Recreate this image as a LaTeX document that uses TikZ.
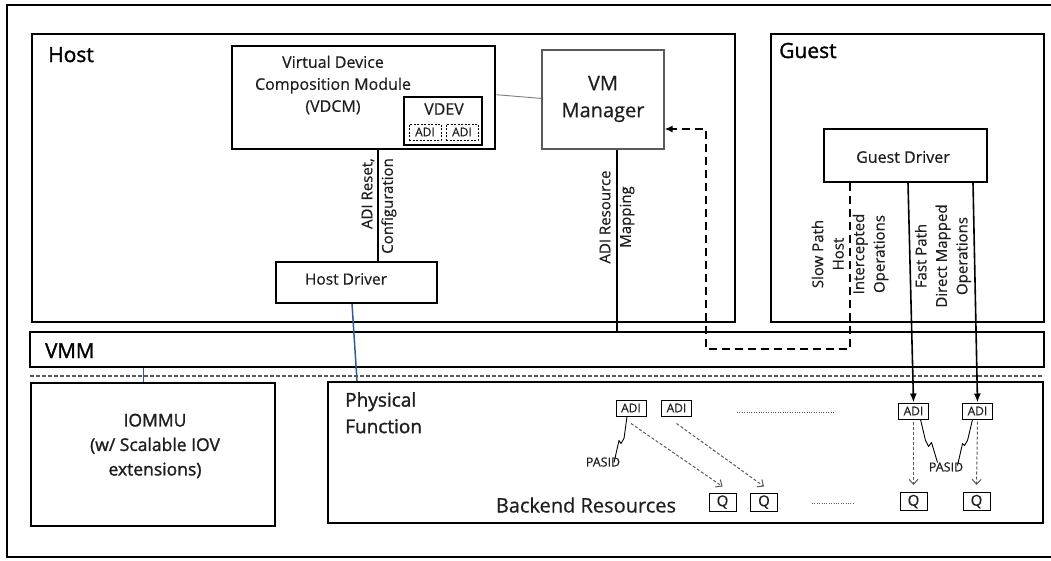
\documentclass[tikz,border=0pt]{standalone}
\usepackage{fontspec}
\setmainfont{Open Sans}
\newfontfamily\bodyfont{Open Sans}[FakeBold=0.5]
\newfontfamily\headfont{Open Sans}[FakeBold=1.4]
\usetikzlibrary{fit,arrows.meta,calc}

\definecolor{ink}{HTML}{1E1E1E}
\definecolor{softline}{HTML}{5A5A5A}
\definecolor{linkblue}{HTML}{2C5D8F}
\newcommand\fs[2]{\fontsize{#1}{#2}\selectfont}

\begin{document}
\begin{tikzpicture}[x=1pt,y=-1pt,
  heavybox/.style={draw, line width=2.4pt, inner sep=0pt},
  midbox/.style={draw, line width=1.7pt, inner sep=0pt},
  lightbox/.style={draw=softline, line width=1.1pt, inner sep=0pt},
  lbl/.style={text=ink, inner sep=0pt},
  title/.style={text=black, inner sep=0pt, anchor=base west},
  adibox/.style={draw, line width=1pt, inner sep=0pt, minimum width=30pt, minimum height=16pt, text=ink, font=\bodyfont\fs{12}{14}},
  vadibox/.style={draw, line width=1pt, dash pattern=on 2pt off 1.5pt, inner sep=0pt, minimum width=32pt, minimum height=16pt, text=ink, font=\bodyfont\fs{12}{14}},
  qbox/.style={draw, line width=1pt, inner sep=0pt, minimum width=27pt, minimum height=18pt, text=ink, font=\bodyfont\fs{15}{17}},
  sidelbl/.style={text=ink, inner sep=0pt, rotate=90, font=\bodyfont\fs{15}{20.5}},
  pasid/.style={text=ink, inner sep=0pt, font=\bodyfont\fs{12.5}{14}},
  qarrow/.style={draw=softline, line width=1pt, dash pattern=on 3pt off 2pt, -{Straight Barb[length=5pt,width=9pt]}},
  squiggle/.style={draw=black, line width=0.9pt, line join=round},
  dots/.style={draw=softline, line width=1pt, dash pattern=on 1pt off 1.4pt}
]
\useasboundingbox (0,0) rectangle (1051,560);

% outer frame, open on the right where it runs off the page
\draw[line width=2.4pt] (1051,5) -- (7,5) -- (7,557) -- (1051,557);

% Host area
\node[heavybox, fit={(32,34)(735,322)}] (host) {};
\node[title, font=\headfont\fs{21}{25}] at (48,62) {Host};

\node[draw, line width=2.6pt, inner sep=0pt, fit={(232,46)(495,149)}] (vdcm) {};
\node[lbl, align=center, font=\bodyfont\fs{16}{22}] at (333,85) {Virtual Device\\Composition Module\\(VDCM)};
\node[draw, line width=1.1pt, inner sep=0pt, fit={(404,97)(482,145)}] (vdev) {};
\node[lbl, font=\bodyfont\fs{16}{18}] at (444,109) {VDEV};
\node[vadibox] (vadi1) at (425,132) {ADI};
\node[vadibox] (vadi2) at (462,132) {ADI};

\node[lightbox, fit={(542,50)(664,149)}] (vmmgr) {};
\node[lbl, align=center, font=\bodyfont\fs{20}{27}] at (603,99) {VM\\Manager};

\node[midbox, fit={(276,262)(437,303)}] (hd) {};
\node[lbl, font=\bodyfont\fs{15.5}{18}] at (346,279) {Host Driver};

% Guest area
\node[heavybox, fit={(771,34)(1044,322)}] (guest) {};
\node[title, font=\headfont\fs{21}{25}] at (779,58) {Guest};
\node[midbox, fit={(824,129)(987,182)}] (gd) {};
\node[lbl, font=\bodyfont\fs{16}{18}] at (903,157) {Guest Driver};

% VMM bar and the platform boundary
\node[heavybox, fit={(30,332)(1044,367)}] (vmm) {};
\node[title, font=\headfont\fs{20.5}{24}] at (45,358) {VMM};
\draw[softline, line width=1.2pt, dash pattern=on 4pt off 2pt] (30,376) -- (1044,376);

% Hardware
\node[heavybox, fit={(31,383)(275,526)}] (iommu) {};
\node[lbl, align=center, font=\headfont\fs{17.5}{24.5}] at (155,446) {IOMMU\\(w/ Scalable IOV\\extensions)};

\node[heavybox, fit={(328,382)(1043,523)}] (pf) {};
\node[lbl, align=left, anchor=north west, font=\headfont\fs{19}{26.5}] at (345,392) {Physical\\Function};

\node[adibox] (adi1) at (631,408) {ADI};
\node[adibox] (adi2) at (676.5,408) {ADI};
\node[adibox] (adi3) at (913.5,411) {ADI};
\node[adibox] (adi4) at (977.5,411) {ADI};
\draw[dots] (737,412) -- (835,412);

\node[lbl, font=\bodyfont\fs{20}{24}] at (586,505) {Backend Resources};
\node[qbox] (q1) at (722.5,502) {Q};
\node[qbox] (q2) at (764,502) {Q};
\node[qbox] (q3) at (913.5,501.5) {Q};
\node[qbox] (q4) at (976.5,501.5) {Q};
\draw[dots] (812,503) -- (855,503);

% reference x / y positions for the connectors
\coordinate (xcfg) at (378,0);
\coordinate (xmap) at (617,0);
\coordinate (xslow) at (850,0);
\coordinate (xfast1) at (908,0);
\coordinate (xfast2) at (973,0);
\coordinate (xloop) at (706,0);
\coordinate (yloop) at (0,349);
\coordinate (yret) at (0,129);
\coordinate (xhd) at (352,0);
\coordinate (xpf) at (357,0);
\coordinate (xio) at (143,0);

% VDCM <-> Host Driver
\draw[line width=1.6pt] (vdcm.south -| xcfg) -- (hd.north -| xcfg);
\node[sidelbl, align=right] at (379,206) {ADI Reset,\\Configuration};

% VDCM <-> VM Manager
\draw[softline!80, line width=0.9pt] ([yshift=-50pt]vdcm.north east) -- ([yshift=-49pt]vmmgr.north west);

% VM Manager -> VMM
\draw[line width=1.6pt] (vmmgr.south -| xmap) -- (vmm.north -| xmap);
\node[sidelbl, align=center] at (617,217) {ADI Resource\\Mapping};

% slow path through the host
\draw[line width=1.9pt, dash pattern=on 8pt off 5pt, -{Latex[length=8pt,width=7pt]}]
  (gd.south -| xslow) -- (xslow |- yloop) -- (xloop |- yloop) -- (xloop |- yret) -- (vmmgr.east |- yret);
\node[sidelbl, align=center] at (850,254) {Slow Path\\Host\\Intercepted\\Operations};

% fast path, direct mapped
\draw[line width=1.6pt, -{Latex[length=9pt,width=7pt]}] (gd.south -| xfast1) -- (adi3.north);
\draw[line width=1.6pt, -{Latex[length=9pt,width=7pt]}] (gd.south -| xfast2) -- (adi4.north);
\node[sidelbl, align=center] at (943,256) {Fast Path\\Direct Mapped\\Operations};

% physical links
\draw[linkblue, line width=1.5pt] (hd.south -| xhd) -- (pf.north -| xpf);
\draw[linkblue, line width=1pt] (vmm.south -| xio) -- (iommu.north -| xio);

% ADI -> queue mappings
\draw[qarrow] ([yshift=-7pt]adi1.south) -- ([yshift=6pt]q1.north);
\draw[qarrow] ([yshift=-7pt]adi2.south) -- ([yshift=6pt]q2.north);
\draw[qarrow] ([yshift=-2pt]adi3.south) -- ([yshift=7pt]q3.north);
\draw[qarrow] ([yshift=-2pt]adi4.south) -- ([yshift=7pt]q4.north);

% PASID tags
\node[pasid] (pasidL) at (603,462) {PASID};
\node[pasid] (pasidR) at (946,467) {PASID};
\draw[squiggle] ([xshift=-4pt]adi1.south) -- ++(-3,22) -- ++(-3,5) -- ++(-2,-3) -- ++(-5,22);
\draw[squiggle] ([xshift=7pt]adi3.south) -- ++(5,21) -- ++(3,6) -- ++(3,-4) -- ++(6,20);
\draw[squiggle] ([xshift=-5pt]adi4.south) -- ++(-5,21) -- ++(-3,5) -- ++(-2,-2) -- ++(-5,22);

\end{tikzpicture}
\end{document}
